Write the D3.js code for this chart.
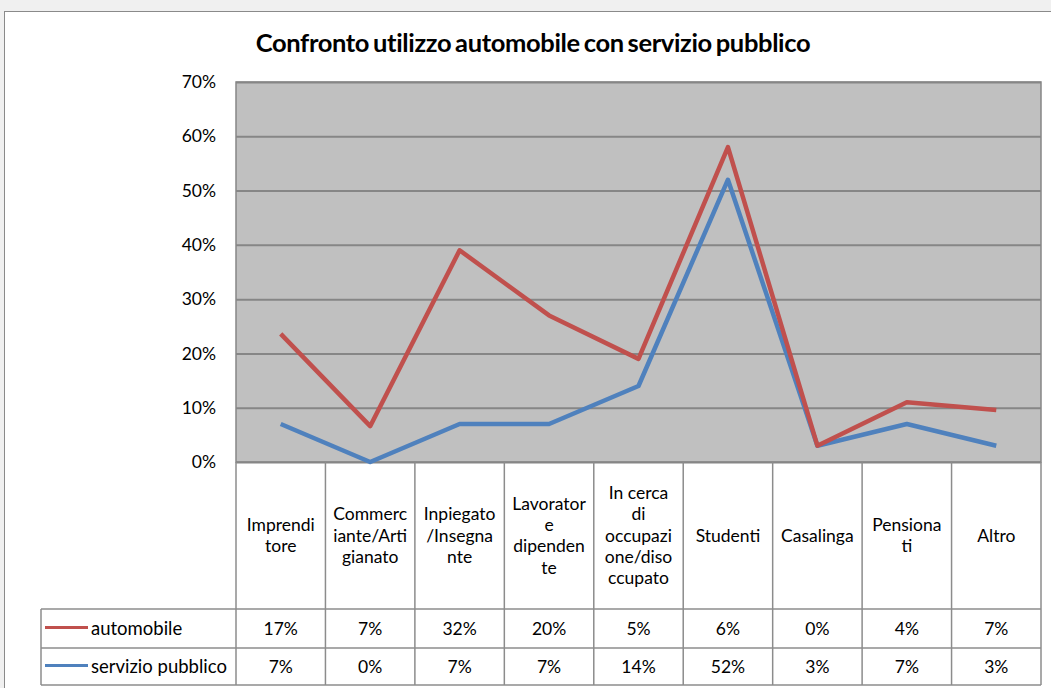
<!DOCTYPE html>
<html><head><meta charset="utf-8">
<script src="https://cdn.jsdelivr.net/npm/d3@7"></script>
<style>
html,body{margin:0;padding:0;background:#f0f0f0;}
svg{display:block;}
text{font-family:Lato,"Open Sans",sans-serif;fill:#000;}
</style></head>
<body>
<svg id="c" width="1051" height="688"></svg>
<script>
const title = "Confronto utilizzo automobile con servizio pubblico";
const categories = ["Imprenditore","Commerciante/Artigianato","Inpiegato/Insegnante","Lavoratore dipendente","In cerca di occupazione/disoccupato","Studenti","Casalinga","Pensionati","Altro"];
const categoryLabelLines = [["Imprendi","tore"],["Commerc","iante/Arti","gianato"],["Inpiegato","/Insegna","nte"],["Lavorator","e","dipenden","te"],["In cerca","di","occupazi","one/diso","ccupato"],["Studenti"],["Casalinga"],["Pensiona","ti"],["Altro"]];
const seriesNames = ["automobile","servizio pubblico"];
const automobile = [16.6, 6.6, 32, 20, 5, 6, 0, 4, 6.6];
const servizioPubblico = [7, 0, 7, 7, 14, 52, 3, 7, 3];
const yTicks = [0,10,20,30,40,50,60,70];

const svg = d3.select("#c");
svg.append("rect").attr("x",4.5).attr("y",11.5).attr("width",1100).attr("height",700)
  .attr("fill","#fff").attr("stroke","#8a8a8a").attr("stroke-width",1);

const L=236, R=1041, T=82, B=462;
const x = d3.scaleBand().domain(categories).range([L,R]).padding(0);
const y = d3.scaleLinear().domain([0,70]).range([B,T]);

svg.append("text").attr("x",533).attr("y",52).attr("text-anchor","middle")
  .attr("font-size",25.5).attr("font-weight","bold").attr("letter-spacing","-0.35").attr("word-spacing","-2").text(title);

svg.append("rect").attr("x",L).attr("y",T).attr("width",R-L).attr("height",B-T).attr("fill","#c0c0c0");

const grid = svg.append("g").attr("transform",`translate(${L},0)`)
  .call(d3.axisLeft(y).tickValues(yTicks).tickSize(-(R-L)).tickFormat(""));
grid.select(".domain").remove();
grid.selectAll("line").attr("stroke","#868686").attr("stroke-width",2);

svg.append("rect").attr("x",L).attr("y",T).attr("width",R-L).attr("height",B-T)
  .attr("fill","none").attr("stroke","#868686").attr("stroke-width",1.5);

const ya = svg.append("g").attr("transform",`translate(216,0)`)
  .call(d3.axisLeft(y).tickValues(yTicks).tickSize(0).tickPadding(0).tickFormat(d=>d+"%"));
ya.select(".domain").remove();
ya.selectAll("text").attr("font-size",17.5).attr("font-family","Lato,sans-serif").attr("fill","#000");

const cx = c => x(c)+x.bandwidth()/2;
const stacked = automobile.map((v,i)=>v+servizioPubblico[i]);
const line = d3.line().x(d=>cx(d[0])).y(d=>y(d[1]));
svg.append("path").datum(categories.map((c,i)=>[c,servizioPubblico[i]]))
  .attr("d",line).attr("fill","none").attr("stroke","#4f81bd").attr("stroke-width",4.5).attr("stroke-linejoin","round");
svg.append("path").datum(categories.map((c,i)=>[c,stacked[i]]))
  .attr("d",line).attr("fill","none").attr("stroke","#c0504d").attr("stroke-width",4.5).attr("stroke-linejoin","round");

const rowTop = 609, row1 = 648, row2 = 685, legL = 41;
const tb = svg.append("g").attr("stroke","#8c8c8c").attr("stroke-width",1.5);
x.domain().forEach(c=>{
  tb.append("line").attr("x1",x(c)).attr("x2",x(c)).attr("y1",B).attr("y2",row2);
});
tb.append("line").attr("x1",R).attr("x2",R).attr("y1",B).attr("y2",row2);
tb.append("line").attr("x1",legL).attr("x2",legL).attr("y1",rowTop).attr("y2",row2);
[rowTop,row1,row2].forEach(yy=>tb.append("line").attr("x1",legL).attr("x2",R).attr("y1",yy).attr("y2",yy));

const lh = 21.3;
categories.forEach((c,i)=>{
  const lines = categoryLabelLines[i];
  const mid = (B+rowTop)/2;
  const t = svg.append("text").attr("text-anchor","middle").attr("font-size",17.5);
  lines.forEach((s,j)=>{
    t.append("tspan").attr("x",cx(c)).attr("y",mid + (j-(lines.length-1)/2)*lh).attr("dy","0.35em").text(s);
  });
});

const seriesData = [automobile, servizioPubblico];
const colors = ["#c0504d","#4f81bd"];
const rowMids = [(rowTop+row1)/2,(row1+row2)/2];
seriesData.forEach((arr,k)=>{
  svg.append("line").attr("x1",45).attr("x2",88).attr("y1",rowMids[k]-1).attr("y2",rowMids[k]-1)
    .attr("stroke",colors[k]).attr("stroke-width",3);
  svg.append("text").attr("x",91).attr("y",rowMids[k]).attr("dy","0.35em").attr("font-size",18.5).text(seriesNames[k]);
  categories.forEach((c,i)=>{
    svg.append("text").attr("x",cx(c)).attr("y",rowMids[k]).attr("dy","0.35em").attr("text-anchor","middle")
      .attr("font-size",17.5).text(d3.format(".0f")(arr[i])+"%");
  });
});
</script>
</body></html>
